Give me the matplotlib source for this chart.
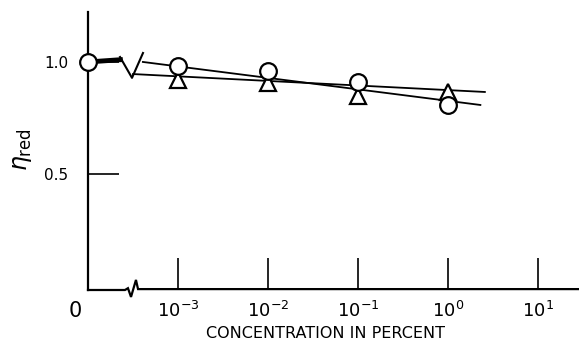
import matplotlib.pyplot as plt
import matplotlib.transforms as mtransforms
import numpy as np

# x positions are in decades: -3 -> 10^-3 ... ; "0" concentration drawn at -4
tick_pos = [-4, -3, -2, -1, 0, 1]
tick_labels = ["0", r"$10^{-3}$", r"$10^{-2}$", r"$10^{-1}$", r"$10^{0}$", r"$10^{1}$"]

conc = [-3, -2, -1, 0]
eta_circle = [0.98, 0.96, 0.91, 0.81]
eta_triangle = [0.92, 0.905, 0.85, 0.865]
zero_x, zero_eta = -4, 1.0

# drawn fit lines
fit_circle_x = [-3.39, 0.36]
fit_circle_y = [1.00, 0.808]
fit_triangle_x = [-3.50, 0.41]
fit_triangle_y = [0.946, 0.866]

fig = plt.figure(figsize=(5.79, 3.46), dpi=100)
ax = fig.add_axes([88 / 579, 56 / 346, 491 / 579, 278 / 346])
ax.set_xlim(-4, 1.456)
ax.set_ylim(-0.018, 1.223)

for s in ["top", "right", "bottom"]:
    ax.spines[s].set_visible(False)
ax.spines["left"].set_linewidth(1.6)

# x axis with break
ax.plot([-4, -3.589, -3.556, -3.522, -3.467, -3.444, 1.456],
        [-0.018, -0.018, -0.010, -0.049, 0.027, -0.014, -0.014],
        color="black", lw=1.6, clip_on=False, solid_joinstyle="miter")

ax.set_xticks(tick_pos)
ax.set_xticklabels(tick_labels, fontsize=13)
ax.tick_params(axis="x", direction="in", length=23, width=1.2, pad=8)
# "0" sits a bit left of the y axis
zero_lab = ax.get_xticklabels()[0]
zero_lab.set_fontsize(15)
zero_lab.set_transform(zero_lab.get_transform() +
                       mtransforms.ScaledTranslation(-13 / 100, 0, fig.dpi_scale_trans))
ax.set_yticks([0.5, 1.0])
ax.set_yticklabels(["0.5", "1.0"], fontsize=11)
ax.tick_params(axis="y", direction="in", length=22, width=1.2, pad=14)

# thick lead-in from zero point and break on the data
ax.plot([zero_x, -3.64], [zero_eta, 1.01], color="black", lw=3.5, clip_on=False)
ax.plot([-3.644, -3.511, -3.389], [1.022, 0.929, 1.040], color="black", lw=1.5)

ax.plot(fit_circle_x, fit_circle_y, color="black", lw=1.3)
ax.plot(fit_triangle_x, fit_triangle_y, color="black", lw=1.3)

ax.plot(conc, eta_triangle, linestyle="none", marker="^", ms=12, mfc="white",
        mec="black", mew=1.6, zorder=3)
ax.plot(conc, eta_circle, linestyle="none", marker="o", ms=12, mfc="white",
        mec="black", mew=1.6, zorder=4)
ax.plot([zero_x], [zero_eta], linestyle="none", marker="o", ms=12, mfc="white",
        mec="black", mew=1.6, zorder=4, clip_on=False)

fig.text(325 / 579, 1 - 333 / 346, "CONCENTRATION IN PERCENT", fontsize=11.5,
         ha="center", va="center")
fig.text(22 / 579, 1 - 150 / 346, r"$\eta_{\rm red}$", fontsize=17, rotation=90,
         ha="center", va="center")

fig.savefig("out.png", dpi=100)
